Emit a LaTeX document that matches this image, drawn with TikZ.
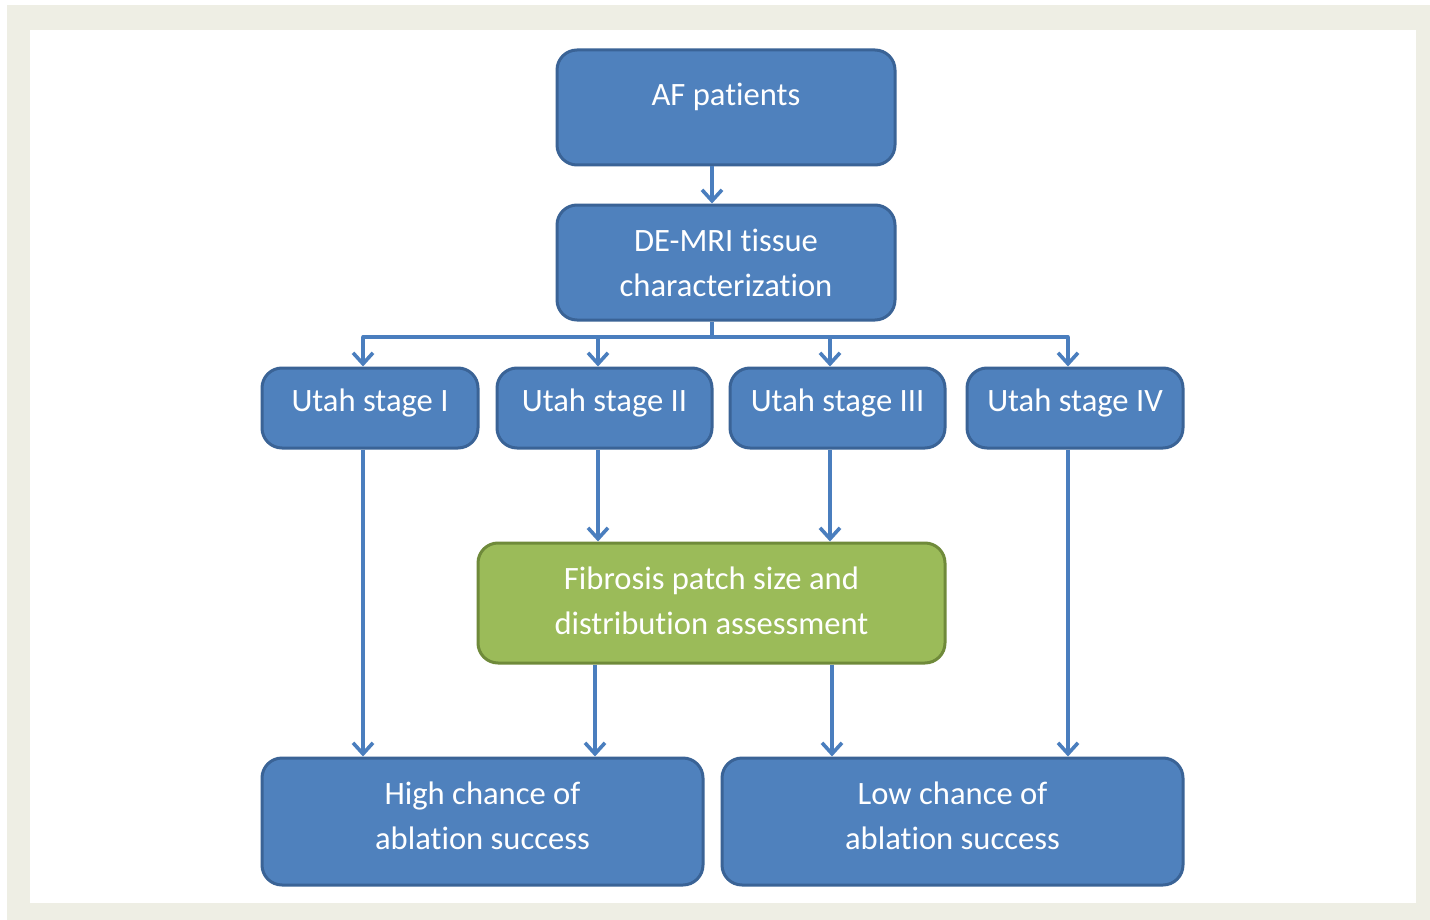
\documentclass[tikz,border=0pt]{standalone}
\usepackage{fontspec}
\setmainfont{Carlito}[Ligatures={NoCommon}]
\usetikzlibrary{arrows.meta,calc}
\definecolor{beige}{HTML}{EEEEE4}
\definecolor{bfill}{HTML}{4F81BD}
\definecolor{bdraw}{HTML}{3A6396}
\definecolor{gfill}{HTML}{9BBB59}
\definecolor{gdraw}{HTML}{6F8A3A}
\definecolor{arrc}{HTML}{4A7EBE}
\tikzset{
  bbox/.style={draw=bdraw, fill=bfill, line width=1.5pt, rounded corners=10pt, inner sep=0pt},
  gbox/.style={draw=gdraw, fill=gfill, line width=1.5pt, rounded corners=10pt, inner sep=0pt},
  lbl/.style={text=white, font=\fontsize{16.3pt}{22.5pt}\selectfont, align=center, inner sep=0pt},
  arr/.style={draw=arrc, line width=1.8pt, -{Straight Barb[length=5.5pt,width=10pt,line width=1.8pt]}},
  ln/.style={draw=arrc, line width=1.8pt}
}
\begin{document}
\begin{tikzpicture}[x=0.5pt,y=-0.5pt]
\useasboundingbox (0,0) rectangle (1430,920);
\fill[white] (0,0) rectangle (1430,920);
\fill[beige] (7,5) rectangle (1430,920);
\fill[white] (30,30) rectangle (1416,903);

% boxes
\node[bbox, minimum width=169pt, minimum height=57.5pt] (af) at (726,107.5) {};
\node[bbox, minimum width=169pt, minimum height=57.5pt] (de) at (726,262.5) {};
\node[bbox, minimum width=108pt, minimum height=40pt] (u1) at (370,408) {};
\node[bbox, minimum width=107.5pt, minimum height=40pt] (u2) at (604.5,408) {};
\node[bbox, minimum width=107.5pt, minimum height=40pt] (u3) at (837.5,408) {};
\node[bbox, minimum width=108pt, minimum height=40pt] (u4) at (1075,408) {};
\node[gbox, minimum width=233.5pt, minimum height=60pt] (fib) at (711.5,603) {};
\node[bbox, minimum width=220.5pt, minimum height=63.5pt] (high) at (482.5,821.5) {};
\node[bbox, minimum width=230.5pt, minimum height=63.5pt] (low) at (952.5,821.5) {};

% texts
\node[lbl] (afT) at ([yshift=5.5pt]af.center) {AF patients};
\node[lbl] (deT) at (de.center) {DE-MRI tissue\\characterization};
\node[lbl] (u1T) at ([yshift=2.5pt]u1.center) {Utah stage I};
\node[lbl] (u2T) at ([yshift=2.5pt]u2.center) {Utah stage II};
\node[lbl] (u3T) at ([yshift=2.5pt]u3.center) {Utah stage III};
\node[lbl] (u4T) at ([yshift=2.5pt]u4.center) {Utah stage IV};
\node[lbl] (fibT) at ([yshift=1pt]fib.center) {Fibrosis patch size and\\distribution assessment};
\node[lbl] (highT) at ([yshift=3pt]high.center) {High chance of\\ablation success};
\node[lbl] (lowT) at ([yshift=3pt]low.center) {Low chance of\\ablation success};

% connectors
\coordinate (bus) at (712,337);
\draw[arr] ([xshift=-7pt]af.south) -- ([xshift=-7pt]af.south |- de.north);
\draw[ln] ([xshift=-7pt]de.south) -- (bus);
\coordinate (b1) at (363,337);
\coordinate (b4) at (1068,337);
\draw[ln, line cap=round] (b1) -- (b4);
\draw[arr] (b1) -- (b1 |- u1.north);
\draw[arr] (598,337) -- ([xshift=-3.25pt]u2.north);
\draw[arr] (830,337) -- ([xshift=-3.75pt]u3.north);
\draw[arr] (b4) -- (b4 |- u4.north);

\draw[arr] ([xshift=-3.5pt]u1.south) -- ([xshift=-3.5pt]u1.south |- high.north);
\draw[arr] ([xshift=-3.25pt]u2.south) -- ([xshift=-3.25pt]u2.south |- fib.north);
\draw[arr] ([xshift=-3.75pt]u3.south) -- ([xshift=-3.75pt]u3.south |- fib.north);
\draw[arr] ([xshift=-3.5pt]u4.south) -- ([xshift=-3.5pt]u4.south |- low.north);

\coordinate (f1) at (595,663);
\coordinate (f2) at (832,663);
\draw[arr] (f1 |- fib.south) -- (f1 |- high.north);
\draw[arr] (f2 |- fib.south) -- (f2 |- low.north);
\end{tikzpicture}
\end{document}
